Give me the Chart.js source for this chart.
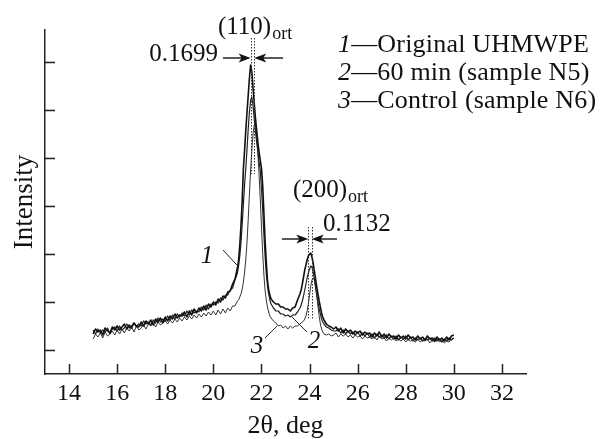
<!DOCTYPE html>
<html><head><meta charset="utf-8">
<script src="https://cdn.jsdelivr.net/npm/chart.js@4.4.1/dist/chart.umd.min.js"></script>
<style>html,body{margin:0;padding:0;background:#fff;} #wrap{width:608px;height:439px;position:relative;}</style>
</head><body><div id="wrap"><canvas id="c"></canvas></div>
<script>
// 2θ, deg
const angles = [
15,15.1,15.2,15.3,15.4,15.5,15.6,15.7,15.8,15.9,
16,16.1,16.2,16.3,16.4,16.5,16.6,16.7,16.8,16.9,
17,17.1,17.2,17.3,17.4,17.5,17.6,17.7,17.8,17.9,
18,18.1,18.2,18.3,18.4,18.5,18.6,18.7,18.8,18.9,
19,19.1,19.2,19.3,19.4,19.5,19.6,19.7,19.8,19.9,
20,
20.1,20.2,20.3,20.4,20.5,20.6,20.7,20.8,20.9,21,
21.05,21.1,21.15,21.2,21.25,21.3,21.35,21.4,21.45,21.5,21.55,21.6,21.65,21.7,21.75,21.8,21.85,21.9,21.95,22,22.05,22.1,22.15,22.2,22.25,22.3,22.35,22.4,
22.5,22.6,22.7,22.8,22.9,23,23.1,23.2,23.3,23.4,23.5,23.6,
23.65,23.7,23.75,23.8,23.85,23.9,23.95,24,24.05,24.1,24.15,24.2,24.25,24.3,24.35,24.4,24.45,24.5,24.55,24.6,
24.7,24.8,24.9,25,
25.1,25.2,25.3,25.4,25.5,25.6,25.7,25.8,25.9,26,
26.1,26.2,26.3,26.4,26.5,26.6,26.7,26.8,26.9,27,
27.1,27.2,27.3,27.4,27.5,27.6,27.7,27.8,27.9,28,
28.1,28.2,28.3,28.4,28.5,28.6,28.7,28.8,28.9,29,
29.1,29.2,29.3,29.4,29.5,29.6,29.7,29.8,29.9,30
];
// Intensity, a.u.
const curve1 = [
40,45,42,44,39,46,43,41,47,44,
48,44,47,50,45,49,46,51,48,47,
52,48,53,50,54,49,55,52,56,51,
57,53,58,55,60,56,59,58,62,57,
63,59,65,61,66,63,68,64,70,67,
72,
69,75,72,78,76,82,83,90,95,106,
114,129,149,174,206,224,244,262,279,296,309,302,286,271,256,244,232,222,214,206,189,162,134,112,94,84,79,75,
72,70,70,67,67,65,65,63,66,67,74,80,
84,90,97,104,109,114,118,120,121,117,111,103,95,87,80,73,67,61,57,54,
50,48,47,45,
47,43,46,41,45,42,44,40,43,41,
43,39,42,40,41,37,41,38,42,37,
40,36,40,37,38,35,39,36,38,35,
39,36,37,34,38,35,37,34,38,35,
36,33,37,34,36,33,37,34,38,39
];
const curve2 = [
44,40,45,41,44,42,46,40,45,47,
43,48,44,46,50,46,48,51,47,50,
48,53,50,52,49,54,51,56,52,55,
53,58,54,59,55,60,57,61,58,63,
59,64,61,63,62,67,64,69,65,70,
69,
72,71,76,74,79,79,84,86,94,101,
108,118,132,150,170,190,206,225,245,262,274,277,268,255,243,232,222,212,204,185,165,140,118,100,88,80,74,70,
66,63,63,60,60,58,59,57,59,59,62,66,
69,73,78,84,90,96,101,105,108,107,102,95,87,79,72,65,60,55,52,50,
47,46,44,43,
43,45,41,44,40,43,40,42,39,42,
38,41,38,41,37,40,36,40,37,39,
36,39,35,38,35,38,34,37,35,38,
34,37,33,36,34,36,33,35,34,36,
33,36,33,35,32,35,33,36,34,36
];
const curve3 = [
35,40,37,41,36,42,38,40,43,39,
44,40,45,41,46,43,47,42,48,44,
46,49,45,50,48,51,47,52,49,51,
53,50,54,51,55,52,56,53,57,54,
58,55,59,56,60,57,61,58,62,59,
63,
59,64,60,65,61,66,63,68,68,73,
74,77,80,85,92,102,115,132,155,180,204,224,240,249,251,240,222,200,175,148,122,100,84,74,67,62,58,56,
53,51,48,49,46,48,45,48,46,48,48,50,
51,52,53,55,58,63,70,79,88,94,96,94,87,78,68,58,50,45,42,40,
39,40,38,39,
41,37,40,38,40,37,39,36,39,37,
38,35,38,36,37,35,37,34,38,35,
36,33,36,34,36,33,35,33,35,32,
35,33,34,32,35,32,34,33,35,31,
34,32,35,32,34,31,33,32,35,36
];
const xTicks = [14,16,18,20,22,24,26,28,30,32];
const yTicks = [24,72,120,168,216,264,312];
const seriesNumbers = ['1','2','3'];
const seriesNames = ['Original UHMWPE','60 min (sample N5)','Control (sample N6)'];

const SERIF = '"Liberation Serif", "Times New Roman", serif';
function toPoints(ys){ return angles.map((x,i)=>({x:x, y:ys[i]})); }

const annot = {
  id:'annot',
  afterDatasetsDraw(chart){
    const ctx = chart.ctx, xs = chart.scales.x, ys = chart.scales.y;
    const X = v=>xs.getPixelForValue(v), Y = v=>ys.getPixelForValue(v);
    ctx.save();
    ctx.strokeStyle='#222'; ctx.lineWidth=1.5;
    xs.ticks.forEach(t=>{const px=Math.round(X(t.value))+0.5; ctx.beginPath(); ctx.moveTo(px, ys.bottom); ctx.lineTo(px, ys.bottom-10); ctx.stroke();});
    ys.ticks.forEach(t=>{const py=Math.round(Y(t.value))+0.5; ctx.beginPath(); ctx.moveTo(xs.left, py); ctx.lineTo(xs.left+10, py); ctx.stroke();});
    function dotted(x,i0,i1){ ctx.save(); ctx.setLineDash([1.5,1.5]); ctx.lineWidth=1; ctx.strokeStyle='#333';
      const px=Math.round(X(x))+0.5; ctx.beginPath(); ctx.moveTo(px,Y(i0)); ctx.lineTo(px,Y(i1)); ctx.stroke(); ctx.restore(); }
    function arrow(x0,x1,i){ const py=Y(i), p0=X(x0), p1=X(x1), d=Math.sign(p1-p0);
      ctx.strokeStyle='#222'; ctx.lineWidth=1.5; ctx.beginPath(); ctx.moveTo(p0,py); ctx.lineTo(p1-d*6,py); ctx.stroke();
      ctx.fillStyle='#111'; ctx.beginPath(); ctx.moveTo(p1,py); ctx.lineTo(p1-d*12,py-4.5); ctx.lineTo(p1-d*9,py); ctx.lineTo(p1-d*12,py+4.5); ctx.closePath(); ctx.fill(); }
    function leader(x0,i0,x1,i1){ ctx.strokeStyle='#222'; ctx.lineWidth=1; ctx.beginPath(); ctx.moveTo(X(x0),Y(i0)); ctx.lineTo(X(x1),Y(i1)); ctx.stroke(); }
    dotted(21.55,336,200); dotted(21.70,336,200);
    arrow(20.40,21.55,316); arrow(22.90,21.70,316);
    dotted(23.95,147,54); dotted(24.09,147,54);
    arrow(22.85,23.95,135); arrow(25.14,24.09,135);
    leader(20.40,124,20.98,109);
    leader(22.15,36,22.65,48);
    leader(23.89,42,23.27,57);
    ctx.fillStyle='#111'; ctx.textBaseline='alphabetic';
    ctx.font='25px '+SERIF;
    ctx.textAlign='right'; ctx.fillText('0.1699', X(20.19), Y(313));
    ctx.textAlign='left';
    ctx.fillText('0.1132', X(24.56), Y(143));
    function hkl(txt,x,i){ ctx.font='25px '+SERIF; ctx.textAlign='left'; ctx.fillText(txt,X(x),Y(i));
      const w=ctx.measureText(txt).width; ctx.font='18px '+SERIF; ctx.fillText('ort',X(x)+w+1,Y(i)+5); }
    hkl('(110)',20.19,340);
    hkl('(200)',23.31,177);
    ctx.font='italic 25px '+SERIF; ctx.textAlign='center';
    ctx.fillText('1',X(19.74),Y(111));
    ctx.fillText('3',X(21.82),Y(21));
    ctx.fillText('2',X(24.19),Y(26));
    const legI=[322,294,266];
    if ('letterSpacing' in ctx) ctx.letterSpacing='0.2px';
    seriesNames.forEach((nm,k)=>{ const px=X(25.18), py=Y(legI[k]);
      ctx.textAlign='left'; ctx.font='italic 26px '+SERIF; ctx.fillText(seriesNumbers[k],px,py);
      const w=ctx.measureText(seriesNumbers[k]).width; ctx.font='26px '+SERIF; ctx.fillText('\u2014'+nm,px+w,py); });
    if ('letterSpacing' in ctx) ctx.letterSpacing='0px';
    ctx.restore();
  }
};

new Chart(document.getElementById('c'), {
  type:'line',
  data:{ datasets:[
    {label:seriesNames[0], data:toPoints(curve1), borderColor:'#111', borderWidth:1.6},
    {label:seriesNames[1], data:toPoints(curve2), borderColor:'#222', borderWidth:1.2},
    {label:seriesNames[2], data:toPoints(curve3), borderColor:'#333', borderWidth:1}
  ]},
  options:{
    responsive:true, maintainAspectRatio:false, animation:false,
    layout:{padding:{left:0,top:30,right:82,bottom:0}},
    elements:{point:{radius:0}, line:{tension:0, borderJoinStyle:'round'}},
    plugins:{legend:{display:false}, tooltip:{enabled:false}},
    scales:{
      x:{type:'linear', min:13, max:33,
        afterBuildTicks:s=>{s.ticks=xTicks.map(v=>({value:v}));},
        afterFit:s=>{s.height=65;},
        grid:{display:false, drawTicks:false},
        border:{display:true, color:'#222', width:1.5},
        ticks:{font:{family:SERIF,size:24}, color:'#111', padding:5, maxRotation:0, autoSkip:false},
        title:{display:true, text:'2θ, deg', font:{family:SERIF,size:26,lineHeight:1}, color:'#111', padding:0}},
      y:{type:'linear', min:0, max:344,
        afterBuildTicks:s=>{s.ticks=yTicks.map(v=>({value:v}));},
        afterFit:s=>{s.width=45;},
        grid:{display:false, drawTicks:false},
        border:{display:true, color:'#222', width:1.5},
        ticks:{display:false},
        title:{display:true, text:'Intensity', font:{family:SERIF,size:27,lineHeight:1}, color:'#111', padding:{top:11,bottom:0}}}
    }
  },
  plugins:[annot]
});
</script></body></html>
